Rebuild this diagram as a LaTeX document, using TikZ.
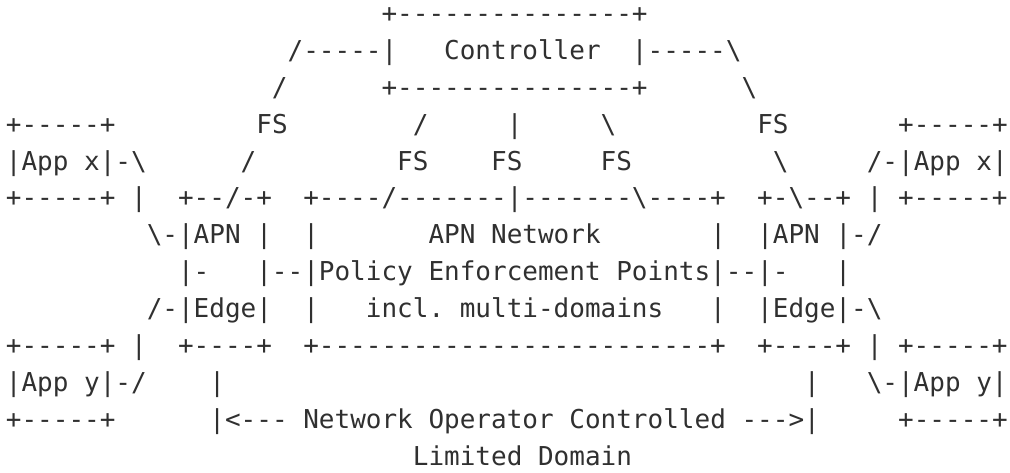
\documentclass[tikz,border=0pt]{standalone}
\usepackage{fontspec}
\setmonofont{DejaVu Sans Mono}
\definecolor{asciiink}{HTML}{303030}
\tikzset{asciirow/.style={anchor=base west, inner sep=0pt, text=asciiink,
    font=\ttfamily\fontsize{13pt}{15pt}\selectfont\frenchspacing}}

\begin{document}
\begin{tikzpicture}[x=7.826pt, y=-18.45pt]
	\path[use as bounding box, fill=white] (-2.75pt,11.2pt) rectangle (502.25pt,-224.8pt);
	% controller on top
	\node[asciirow] (ctrltop) at (24,0) {+---------------+};
	\node[asciirow] (ctrlrow) at (18,1) {/-----|~~~Controller~~|-----\textbackslash};
	\node[asciirow] (ctrlbot) at (17,2) {/~~~~~~+---------------+~~~~~~\textbackslash};
	% FS links and App x
	\node[asciirow] (fsrow) at (0,3) {+-----+~~~~~~~~~FS~~~~~~~~/~~~~~|~~~~~\textbackslash~~~~~~~~~FS~~~~~~~+-----+};
	\node[asciirow] (appx) at (0,4) {|App x|-\textbackslash~~~~~~/~~~~~~~~~FS~~~~FS~~~~~FS~~~~~~~~~\textbackslash~~~~~/-|App x|};
	\node[asciirow] (edgetop) at (0,5) {+-----+ |~~+--/-+~~+----/-------|-------\textbackslash----+~~+-\textbackslash--+ | +-----+};
	% APN edges and network
	\node[asciirow] (apnrow) at (9,6) {\textbackslash-|APN |~~|~~~~~~~APN Network~~~~~~~|~~|APN |-/};
	\node[asciirow] (pefrow) at (11,7) {|-~~~|--|Policy Enforcement Points|--|-~~~|};
	\node[asciirow] (edgerow) at (9,8) {/-|Edge|~~|~~~incl. multi-domains~~~|~~|Edge|-\textbackslash};
	\node[asciirow] (edgebot) at (0,9) {+-----+ |~~+----+~~+-------------------------+~~+----+ | +-----+};
	% App y and the domain span
	\node[asciirow] (appy) at (0,10) {|App y|-/~~~~|};
	\node[asciirow] (appyr) at (51,10) {|~~~\textbackslash-|App y|};
	\node[asciirow] (opctl) at (0,11) {+-----+~~~~~~|<--- Network Operator Controlled --->|~~~~~+-----+};
	\node[asciirow] (limdom) at (26,12) {Limited Domain};
\end{tikzpicture}
\end{document}
